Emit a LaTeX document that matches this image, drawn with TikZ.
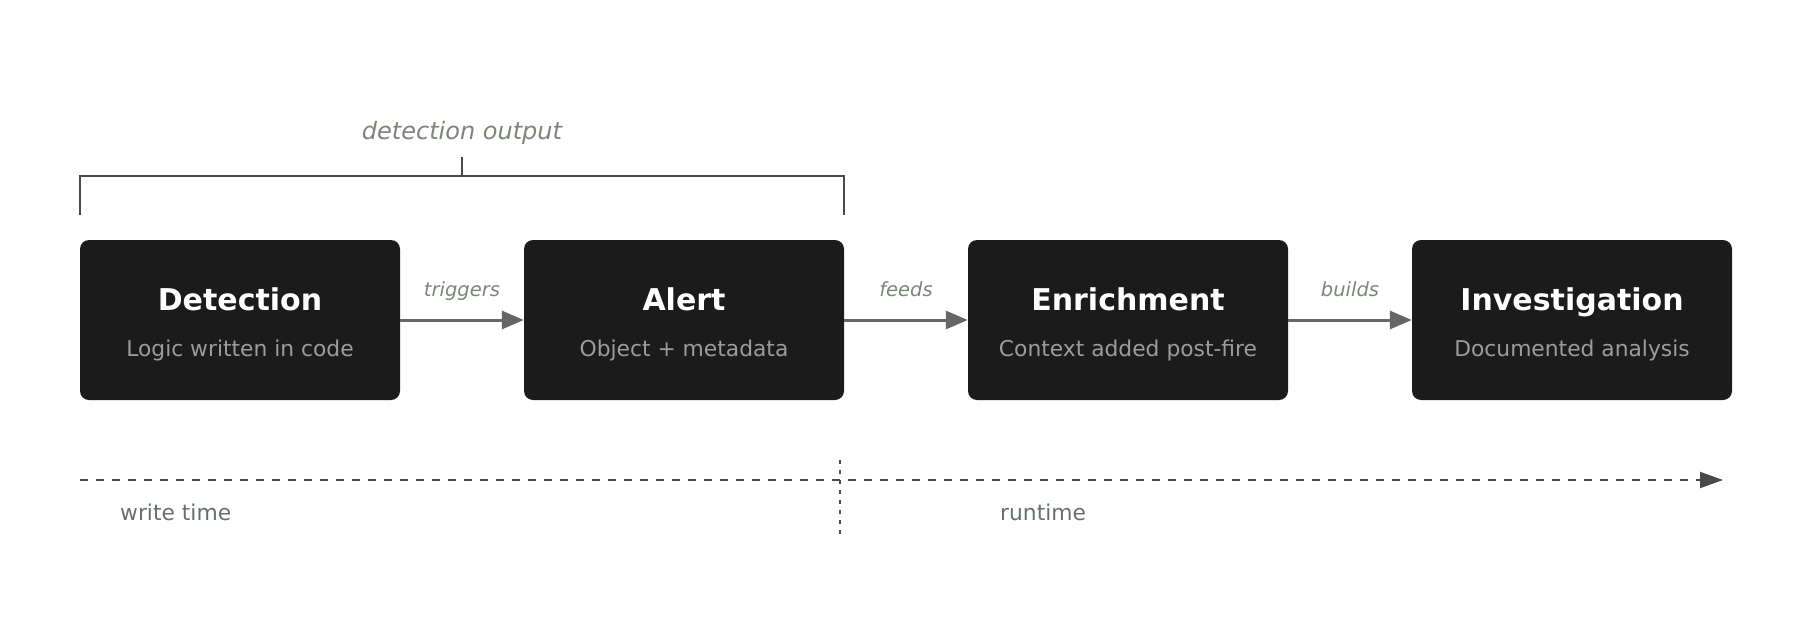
\documentclass[tikz,border=0pt]{standalone}
\usepackage{fontspec}
\setmainfont{DejaVu Sans}
\usetikzlibrary{arrows.meta}

\definecolor{fondo}{HTML}{1B1B1B}
\definecolor{subgris}{HTML}{9C9C9C}
\definecolor{verbogris}{HTML}{7D857B}
\definecolor{flechagris}{HTML}{666666}
\definecolor{trazogris}{HTML}{4A4A4A}
\definecolor{tiempogris}{HTML}{687068}

\newcommand{\etapa}[4]{%
  \node[caja] (#1) at (#2,320) {};
  \node[titulo] (#1-t) at ([yshift=10pt]#1.center) {#3};
  \node[subtitulo] (#1-s) at ([yshift=-36pt]#1.center) {#4};}

\begin{document}
\begin{tikzpicture}[x=1pt, y=-1pt,
  caja/.style={fill=fondo, rounded corners=9pt, minimum width=320pt, minimum height=160pt, inner sep=0pt},
  titulo/.style={anchor=base, inner sep=0pt, text=white, font=\fontsize{30}{36}\selectfont\bfseries},
  subtitulo/.style={anchor=base, inner sep=0pt, text=subgris, font=\fontsize{21.8}{26}\selectfont},
  verbo/.style={anchor=base, yshift=24pt, inner sep=0pt, text=verbogris, font=\fontsize{19.5}{24}\selectfont\itshape},
  hito/.style={anchor=base west, inner sep=0pt, text=tiempogris, font=\fontsize{21.8}{26}\selectfont},
  paso/.style={draw=flechagris, line width=3pt, -{Triangle[length=22pt, width=18pt]}},
  corchete/.style={draw=trazogris, line width=2pt}]
  \useasboundingbox (0,0) rectangle (1800,640);
  \etapa{d}{240}{Detection}{Logic written in code}
  \etapa{a}{684}{Alert}{Object + metadata}
  \etapa{e}{1128}{Enrichment}{Context added post-fire}
  \etapa{i}{1572}{Investigation}{Documented analysis}
  \draw[paso] (d) -- node[verbo] (v1) {triggers} (a);
  \draw[paso] (a) -- node[verbo] (v2) {feeds} (e);
  \draw[paso] (e) -- node[verbo] (v3) {builds} (i);
  \draw[corchete] ([yshift=25pt]d.north west) -- ++(0,-39) -| ([yshift=25pt]a.north east);
  \coordinate (medio) at (462,176);
  \node[anchor=base, inner sep=0pt, text=verbogris, font=\fontsize{24}{29}\selectfont\itshape] (salida) at (462,139) {detection output};
  \draw[corchete] (medio) -- ++(0,-19);
  \coordinate (inicio) at (80,480);
  \coordinate (fin) at (1723,480);
  \draw[draw=trazogris, line width=2pt, dash pattern=on 8pt off 8pt, -{Triangle[length=23pt, width=16pt]}] (inicio) -- (fin);
  \draw[draw=trazogris, line width=1.5pt, dash pattern=on 4pt off 6pt] (840,460) -- (840,534);
  \node[hito] (escritura) at (120,520) {write time};
  \node[hito] (ejecucion) at (1000,520) {runtime};
\end{tikzpicture}
\end{document}
